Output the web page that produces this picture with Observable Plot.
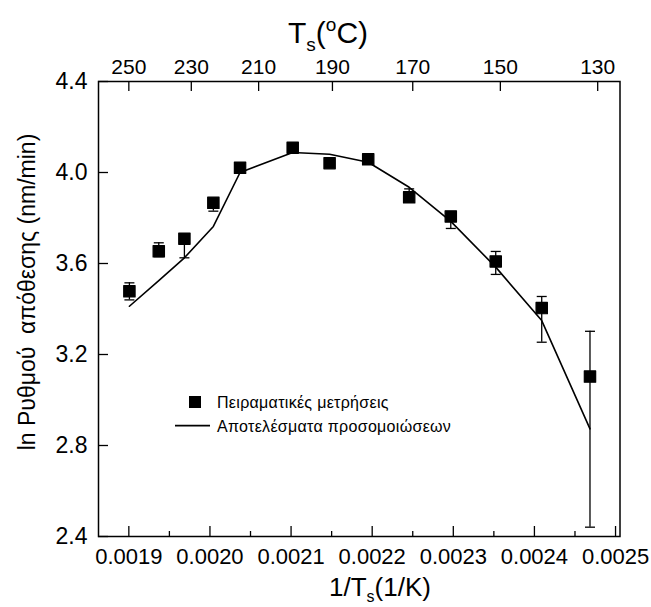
<!DOCTYPE html>
<html>
<head>
<meta charset="utf-8">
<script src="https://cdn.jsdelivr.net/npm/d3@7"></script>
<script src="https://cdn.jsdelivr.net/npm/@observablehq/plot@0.6"></script>
<style>
  html, body { margin: 0; padding: 0; background: white; }
  svg text { white-space: pre; }
</style>
</head>
<body>
<div id="chart"></div>
<script>
// ---- data ----
const invT = [0.0019007, 0.0019369, 0.0019685, 0.0020042, 0.0020371, 0.002102, 0.0021475, 0.0021951, 0.0022456, 0.0022969, 0.0023523, 0.002409, 0.0024685];
const measured = [3.478, 3.654, 3.709, 3.867, 4.021, 4.109, 4.041, 4.058, 3.891, 3.807, 3.609, 3.404, 3.103];
const errHigh  = [3.515, 3.691, 3.72, 3.88, 4.033, 4.12, 4.053, 4.07, 3.928, 3.82, 3.653, 3.455, 3.302];
const errLow   = [3.440, 3.63, 3.625, 3.830, 4.008, 4.097, 4.028, 4.046, 3.88, 3.754, 3.552, 3.254, 2.441];
const simulated = [3.412, 3.525, 3.625, 3.763, 4.00, 4.088, 4.080, 4.045, 3.935, 3.785, 3.584, 3.349, 2.873];

const xTickVals = [0.0019, 0.0020, 0.0021, 0.0022, 0.0023, 0.0024, 0.0025];
const xMinorVals = [0.00195, 0.00205, 0.00215, 0.00225, 0.00235, 0.00245];
const yTickVals = [2.4, 2.8, 3.2, 3.6, 4.0, 4.4];
const topTickPos = [0.0019, 0.001977, 0.00206, 0.002151, 0.00225, 0.002358, 0.002478];
const topTickLabels = ["250", "230", "210", "190", "170", "150", "130"];

const legendLabels = ["Πειραματικές μετρήσεις", "Αποτελέσματα προσομοιώσεων"];
const yTitle = "ln Ρυθμού  απόθεσης (nm/min)";

// ---- layout ----
const W = 651, H = 607;
const mL = 98, mR = 31.5, mT = 81, mB = 71;
const xDom = [0.0018626, 0.0025055], yDom = [2.4, 4.4];
const kY = (yDom[1] - yDom[0]) / (H - mT - mB);
const kX = (xDom[1] - xDom[0]) / (W - mL - mR);

const pts = invT.map((x, i) => ({x, y: measured[i], lo: errLow[i], hi: errHigh[i], sim: simulated[i]}));

const capSymbol = {
  draw(context, size) {
    const w = Math.sqrt(size / Math.PI);
    context.moveTo(-w, 0);
    context.lineTo(w, 0);
  }
};

const font = "'Liberation Sans', Arial, Helvetica, sans-serif";

const chart = Plot.plot({
  width: W, height: H,
  marginLeft: mL, marginRight: mR, marginTop: mT, marginBottom: mB,
  x: {domain: xDom, axis: null},
  y: {domain: yDom, axis: null},
  style: {fontFamily: font, background: "white", color: "black", overflow: "visible"},
  marks: [
    Plot.frame({stroke: "black", strokeWidth: 1.5}),
    // bottom ticks (inward)
    Plot.ruleX(xTickVals, {x: d => d, y1: yDom[0], y2: yDom[0] + 10 * kY, stroke: "black", strokeWidth: 1.3}),
    Plot.ruleX(xMinorVals, {x: d => d, y1: yDom[0], y2: yDom[0] + 5 * kY, stroke: "black", strokeWidth: 1.3}),
    // top ticks (temperature)
    Plot.ruleX(topTickPos, {x: d => d, y1: yDom[1], y2: yDom[1] - 10 * kY, stroke: "black", strokeWidth: 1.3}),
    // left ticks
    Plot.ruleY(yTickVals, {y: d => d, x1: xDom[0], x2: xDom[0] + 10 * kX, stroke: "black", strokeWidth: 1.3}),
    // tick labels
    Plot.text(xTickVals, {x: d => d, text: d => d.toFixed(4), frameAnchor: "bottom", lineAnchor: "top", dy: 12, fontSize: 22, fill: "black"}),
    Plot.text(topTickPos, {x: d => d, text: (d, i) => topTickLabels[i], frameAnchor: "top", lineAnchor: "bottom", dy: -8, fontSize: 21, fill: "black"}),
    Plot.text(yTickVals, {y: d => d, text: d => d.toFixed(1), frameAnchor: "left", textAnchor: "end", dx: -11, fontSize: 23, fill: "black"}),
    // simulation line
    Plot.line(pts, {x: "x", y: "sim", stroke: "black", strokeWidth: 1.6}),
    // error bars
    Plot.ruleX(pts, {x: "x", y1: "lo", y2: "hi", stroke: "black", strokeWidth: 1.3}),
    Plot.dot(pts, {x: "x", y: "hi", symbol: capSymbol, r: 5, stroke: "black", strokeWidth: 1.3, fill: "none"}),
    Plot.dot(pts, {x: "x", y: "lo", symbol: capSymbol, r: 5, stroke: "black", strokeWidth: 1.3, fill: "none"}),
    // measured squares
    Plot.dot(pts, {x: "x", y: "y", symbol: "square", r: 6.4, fill: "black", stroke: "black", strokeWidth: 1.2, strokeLinejoin: "round"})
  ]
});

document.getElementById("chart").appendChild(chart);

// ---- titles & legend (real SVG text) ----
const svg = d3.select(chart);
const g = svg.append("g").attr("fill", "black").attr("font-family", font);

// top title: Ts(°C)
const tt = g.append("text").attr("x", 328).attr("y", 43).attr("text-anchor", "middle").attr("font-size", 30);
tt.append("tspan").text("T");
tt.append("tspan").attr("font-size", 19).attr("dy", 8).text("s");
tt.append("tspan").attr("dy", -8).text("(");
tt.append("tspan").attr("font-size", 19).attr("dy", -12).text("o");
tt.append("tspan").attr("dy", 12).text("C)");

// bottom title: 1/Ts(1/K)
const bt = g.append("text").attr("x", 380).attr("y", 596).attr("text-anchor", "middle").attr("font-size", 26);
bt.append("tspan").text("1/T");
bt.append("tspan").attr("font-size", 16).attr("dy", 6).text("s");
bt.append("tspan").attr("dy", -6).text("(1/K)");

// y title
g.append("text")
  .attr("transform", `translate(27,292) rotate(-90)`)
  .attr("text-anchor", "middle")
  .attr("dominant-baseline", "central")
  .attr("font-size", 23)
  .text(yTitle);

// legend
const lg = g.append("g").attr("text-anchor", "start");
lg.append("rect").attr("x", 189).attr("y", 396).attr("width", 12).attr("height", 12).attr("fill", "black");
lg.append("text").attr("x", 217).attr("y", 402).attr("text-anchor", "start").attr("dominant-baseline", "central").attr("font-size", 16).attr("letter-spacing", 0.3).text(legendLabels[0]);
lg.append("line").attr("x1", 175).attr("x2", 210).attr("y1", 425.7).attr("y2", 425.7).attr("stroke", "black").attr("stroke-width", 1.7);
lg.append("text").attr("x", 217).attr("y", 426).attr("text-anchor", "start").attr("dominant-baseline", "central").attr("font-size", 16).attr("letter-spacing", 0.3).text(legendLabels[1]);
</script>
</body>
</html>
